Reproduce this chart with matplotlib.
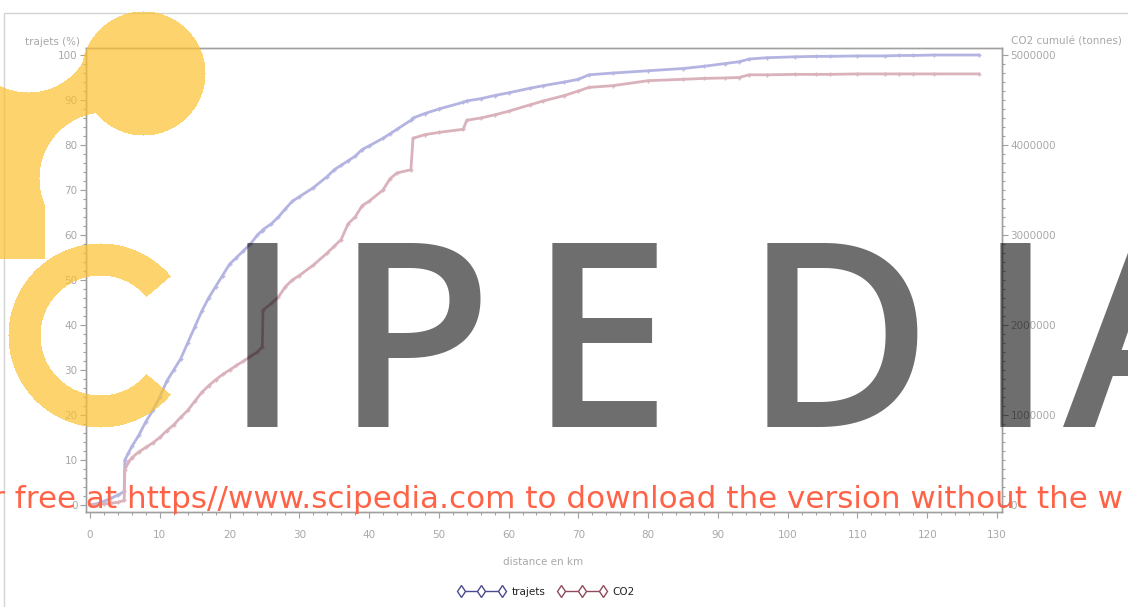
import numpy as np
import matplotlib
matplotlib.use("Agg")
import matplotlib.pyplot as plt
from matplotlib.lines import Line2D
from matplotlib.patches import Rectangle
from matplotlib.ticker import MultipleLocator, FixedLocator

# ---------------- data ----------------
distance_km = [0.0, 1.0, 2.0, 3.0, 4.0, 4.9, 5.0, 5.5, 6.0, 7.0, 8.0, 9.0, 10.0, 11.0, 12.0,
               13.0, 14.0, 15.0, 16.0, 17.0, 18.0, 19.0, 20.0, 21.0, 22.0, 23.0, 24.0, 24.7,
               24.8, 26.0, 27.0, 28.0, 29.0, 30.0, 32.0, 34.0, 35.0, 36.0, 37.0, 38.0, 39.0,
               40.0, 42.0, 43.0, 44.0, 46.0, 46.3, 48.0, 50.0, 53.5, 54.0, 56.0, 58.0, 60.0,
               63.0, 65.0, 68.0, 70.0, 71.5, 75.0, 80.0, 85.0, 88.0, 91.0, 93.0, 94.5, 97.0,
               101.0, 104.0, 106.0, 110.0, 114.0, 116.0, 118.0, 121.0, 127.4]
trajets_pct = [0.0, 0.3, 0.8, 1.5, 2.2, 3.0, 10.0, 11.5, 13.0, 15.5, 18.5, 21.0, 24.0, 27.5, 30.0,
               32.5, 36.0, 39.5, 43.0, 46.0, 48.5, 51.0, 53.5, 55.0, 56.5, 58.0, 60.0, 61.0,
               61.2, 62.5, 64.0, 65.8, 67.5, 68.5, 70.5, 73.0, 74.5, 75.5, 76.5, 77.5, 79.0,
               79.8, 81.5, 82.5, 83.5, 85.5, 86.0, 87.0, 88.0, 89.5, 89.8, 90.3, 91.0, 91.6,
               92.6, 93.2, 94.0, 94.6, 95.6, 96.0, 96.5, 97.0, 97.5, 98.1, 98.5, 99.1, 99.4,
               99.6, 99.7, 99.7, 99.8, 99.8, 99.9, 99.9, 100.0, 100.0]
co2_tonnes = [0, 5000, 10000, 20000, 30000, 50000, 390000, 475000, 525000, 590000, 640000,
              690000, 750000, 825000, 890000, 975000, 1050000, 1150000, 1250000, 1325000,
              1390000, 1450000, 1500000, 1550000, 1600000, 1650000, 1700000, 1760000,
              2165000, 2240000, 2310000, 2425000, 2500000, 2550000, 2665000, 2800000,
              2875000, 2950000, 3125000, 3200000, 3325000, 3375000, 3500000, 3625000,
              3690000, 3725000, 4075000, 4115000, 4140000, 4175000, 4275000, 4300000,
              4335000, 4375000, 4445000, 4490000, 4550000, 4600000, 4640000, 4660000,
              4715000, 4730000, 4740000, 4745000, 4750000, 4780000, 4780000, 4785000,
              4785000, 4785000, 4790000, 4790000, 4790000, 4790000, 4790000, 4790000]

x_ticks = list(range(0, 131, 10))
left_ticks = list(range(0, 101, 10))
right_ticks = [0, 1000000, 2000000, 3000000, 4000000, 5000000]

series_names = ["trajets", "CO2"]
x_label = "distance en km"
left_label = "trajets (%)"
right_label = "CO2 cumulé (tonnes)"
watermark_letters = ["I", "P", "E", "D", "I", "A"]
watermark_line = "r free at https//www.scipedia.com to download the version without the w"

# ---------------- figure ----------------
W, H = 1128, 607
fig = plt.figure(figsize=(W / 100, H / 100), dpi=100)
fig.patch.set_facecolor("white")

ax = fig.add_axes([86 / W, 1 - 512 / H, (1002 - 86) / W, (512 - 48) / H])
ax2 = ax.twinx()

grey = "#a8a8a8"
spine_c = "#a0a0a0"
blue_l, red_l = "#b4b4e2", "#d9b2bb"
blue_d, red_d = "#4b4b8f", "#8f4b5b"

ax.plot(distance_km, trajets_pct, color=blue_l, lw=2.0, marker="+", ms=3.5, mew=1, zorder=3)
ax2.plot(distance_km, co2_tonnes, color=red_l, lw=2.0, marker="+", ms=3.5, mew=1, zorder=3)

ax.set_xlim(-0.57, 130.72)
ax.set_ylim(-1.56, 101.56)
ax2.set_ylim(-1.56 * 50000, 101.56 * 50000)

ax.xaxis.set_major_locator(FixedLocator(x_ticks))
ax.xaxis.set_minor_locator(MultipleLocator(2))
ax.yaxis.set_major_locator(FixedLocator(left_ticks))
ax.yaxis.set_minor_locator(MultipleLocator(2))
ax2.yaxis.set_major_locator(FixedLocator(right_ticks))
ax2.yaxis.set_minor_locator(MultipleLocator(100000))

for a in (ax, ax2):
    for s in a.spines.values():
        s.set_color(spine_c)
        s.set_linewidth(1.0)
    a.tick_params(which="major", length=4, width=0.8, color=spine_c, labelcolor=grey,
                  labelsize=7.5, pad=2)
    a.tick_params(which="minor", length=2.5, width=0.8, color=spine_c)

ax.tick_params(axis="y", which="both", right=False)
ax2.tick_params(axis="y", which="both", left=False)
ax2.yaxis.set_major_formatter(plt.FuncFormatter(lambda v, p: f"{int(round(v))}"))
ax.tick_params(axis="x", pad=9)

fig.text(25 / W, 1 - 42 / H, left_label, color=grey, fontsize=7.5, ha="left", va="center")
fig.text(1122 / W, 1 - 42 / H, right_label, color=grey, fontsize=7.5, ha="right", va="center")
fig.text(543 / W, 1 - 562 / H, x_label, color=grey, fontsize=7.5, ha="center", va="center")

handles = [
    Line2D([], [], color=blue_d, lw=1, marker="d", ms=6, mfc="white", mec=blue_d),
    Line2D([], [], color=red_d, lw=1, marker="d", ms=6, mfc="white", mec=red_d),
]
fig.legend(handles, series_names, loc="center", bbox_to_anchor=(546 / W, 1 - 592 / H),
           ncol=2, frameon=False, numpoints=3, handlelength=4.6, fontsize=7.5,
           columnspacing=1.2, handletextpad=0.6, labelcolor="#222222")

# outer frame
fig.add_artist(Rectangle((4 / W, -0.1), 1.2, (1 - 13 / H) + 0.1, transform=fig.transFigure,
                         fill=False, edgecolor="#d4d4d4", lw=1, zorder=1))

# ---------------- watermark ----------------
yy, xx = np.mgrid[0:H, 0:W].astype(float)
top_circle = (xx - 143) ** 2 + (yy - 73) ** 2 <= 62 ** 2
hole1 = (xx - 28) ** 2 + (yy - 28) ** 2 <= 64 ** 2
hole2 = (xx - 105) ** 2 + (yy - 178) ** 2 <= 66 ** 2
blob = ((xx <= 120) & (yy >= 55) & (yy <= 258) & ~hole1 & ~hole2
        & ~((xx >= 45) & (yy >= 178)))
r = np.hypot(xx - 100, yy - 335)
ang = np.degrees(np.arctan2(-(yy - 335), xx - 100)) % 360
c_arc = (r <= 92) & (r >= 60) & (ang >= 40) & (ang <= 320)
mask = top_circle | blob | c_arc
rgba = np.zeros((H, W, 4))
rgba[..., 0] = 0.985
rgba[..., 1] = 0.76
rgba[..., 2] = 0.18
rgba[..., 3] = mask * 0.7
fig.figimage(rgba, xo=0, yo=0, origin="upper", zorder=10)

letter_cx = [262, 413, 600, 837, 1015, 1148]
for ch, cx in zip(watermark_letters, letter_cx):
    fig.text(cx / W, 1 - 427 / H, ch, color="black", alpha=0.57, fontsize=186,
             family="Open Sans", fontweight="semibold", ha="center", va="baseline", zorder=11)

fig.text(-8 / W, 1 - 508 / H, watermark_line, color="#ff6347", fontsize=22.3,
         family="DejaVu Sans", ha="left", va="baseline", zorder=12)

fig.savefig("out.png", dpi=100)
